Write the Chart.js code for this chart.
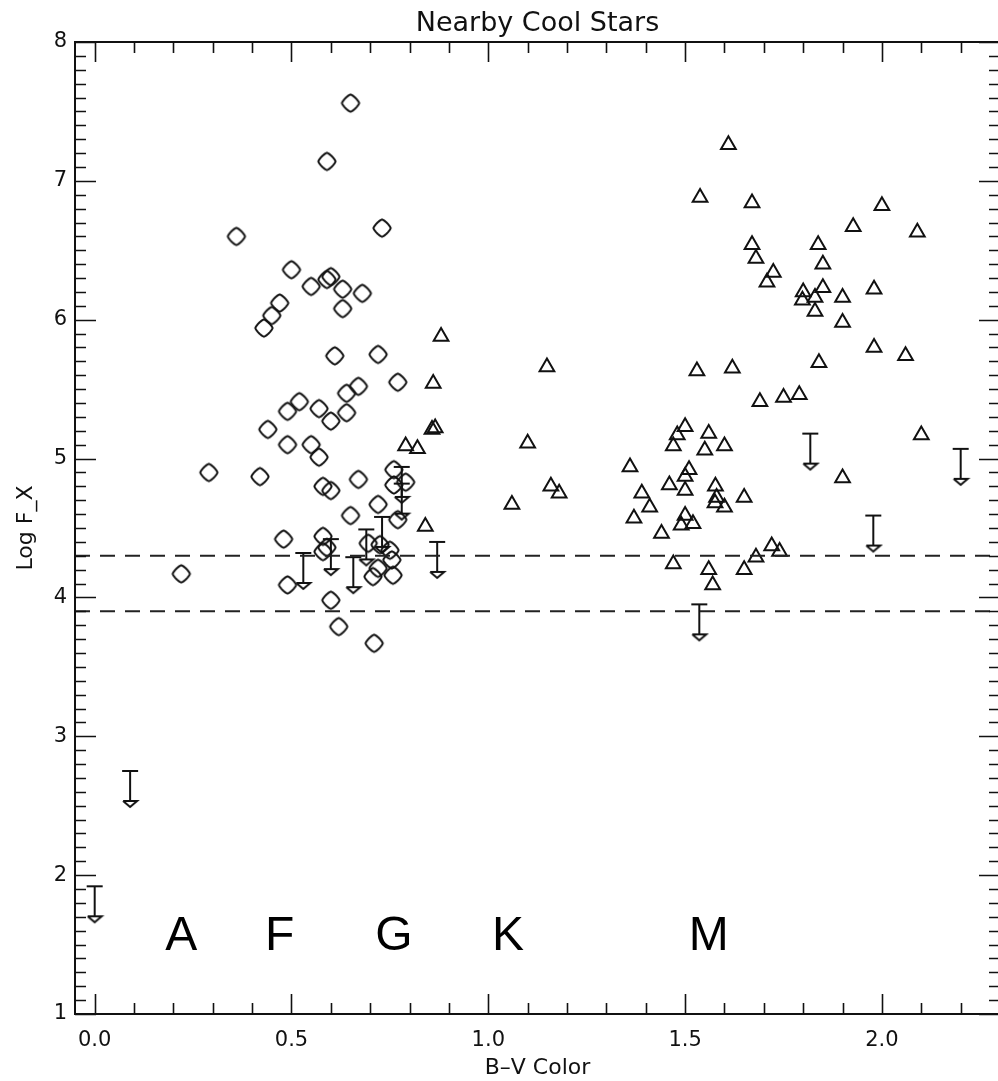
<!DOCTYPE html>
<html>
<head>
<meta charset="utf-8">
<script src="https://cdn.jsdelivr.net/npm/chart.js@4.4.0/dist/chart.umd.min.js"></script>
<style>
  html, body { margin: 0; padding: 0; background: #fff; }
  #wrap { width: 998px; height: 1081px; overflow: hidden; }
</style>
</head>
<body>
<div id="wrap"><canvas id="stars" width="1011" height="1081"></canvas></div>
<script>
;(function(){
  // values (B-V colour, log F_X)
  const diamondX = [0.22, 0.29, 0.36, 0.42, 0.43, 0.44, 0.45, 0.47, 0.48, 0.49, 0.49, 0.49, 0.50, 0.52, 0.55, 0.55,
    0.57, 0.57, 0.58, 0.58, 0.59, 0.58, 0.59, 0.59, 0.60, 0.60, 0.60, 0.60, 0.61, 0.62, 0.63, 0.63, 0.64, 0.64,
    0.65, 0.65, 0.67, 0.67, 0.68, 0.695, 0.71, 0.707, 0.72, 0.72, 0.72, 0.73, 0.725, 0.75, 0.755, 0.758, 0.76,
    0.77, 0.77, 0.79, 0.76]
  const diamondY = [4.17, 4.90, 6.60, 4.87, 5.94, 5.21, 6.03, 6.12, 4.42, 4.09, 5.10, 5.34, 6.36, 5.41, 6.24, 5.10,
    5.36, 5.01, 4.80, 4.44, 4.36, 4.33, 7.14, 6.29, 6.31, 4.77, 5.27, 3.98, 5.74, 3.79, 6.22, 6.08, 5.47, 5.33,
    7.56, 4.59, 5.52, 4.85, 6.19, 4.39, 3.67, 4.15, 5.75, 4.21, 4.67, 6.66, 4.38, 4.34, 4.27, 4.16, 4.81,
    5.55, 4.56, 4.83, 4.92]

  const triangleX = [0.84, 0.82, 0.79, 0.857, 0.865, 0.86, 0.88, 1.06, 1.10, 1.149, 1.159, 1.18, 1.36, 1.37, 1.39,
    1.41, 1.44, 1.46, 1.47, 1.47, 1.48, 1.49, 1.50, 1.50, 1.50, 1.50, 1.51, 1.52, 1.53, 1.538, 1.55, 1.56, 1.56,
    1.57, 1.577, 1.58, 1.576, 1.60, 1.60, 1.61, 1.62, 1.65, 1.65, 1.67, 1.67, 1.68, 1.68, 1.69, 1.708, 1.724,
    1.72, 1.74, 1.75, 1.79, 1.80, 1.798, 1.83, 1.83, 1.84, 1.838, 1.85, 1.85, 1.90, 1.90, 1.90, 1.927, 1.98,
    1.98, 2.00, 2.06, 2.09, 2.10]
  const triangleY = [4.51, 5.07, 5.09, 5.21, 5.22, 5.54, 5.88, 4.67, 5.11, 5.66, 4.80, 4.75, 4.94, 4.57, 4.75,
    4.65, 4.46, 4.81, 5.09, 4.24, 5.17, 4.52, 5.23, 4.87, 4.77, 4.59, 4.92, 4.53, 5.63, 6.88, 5.06, 5.18, 4.20,
    4.09, 4.80, 4.72, 4.68, 5.09, 4.65, 7.26, 5.65, 4.72, 4.20, 6.84, 6.54, 6.44, 4.29, 5.41, 6.27, 6.34,
    4.37, 4.33, 5.44, 5.46, 6.20, 6.14, 6.16, 6.06, 5.69, 6.54, 6.40, 6.23, 6.16, 5.98, 4.86, 6.67, 6.22,
    5.80, 6.82, 5.74, 6.63, 5.17]

  // upper limits: value at the bar, arrow points down
  const limitX = [0.00, 0.09, 0.53, 0.60, 0.657, 0.69, 0.73, 0.78, 0.78, 0.87, 1.536, 1.818, 1.978, 2.20]
  const limitY = [1.92, 2.75, 4.32, 4.42, 4.29, 4.49, 4.58, 4.94, 4.82, 4.40, 3.95, 5.18, 4.59, 5.07]

  const dashedLevels = [4.3, 3.9]

  const spectralLabels = ['A', 'F', 'G', 'K', 'M']
  const spectralX = [0.22, 0.47, 0.76, 1.05, 1.56]
  const spectralY = 1.46

  const xTicks = [0.0, 0.5, 1.0, 1.5, 2.0]
  const yTicks = [1, 2, 3, 4, 5, 6, 7, 8]

  const ink = '#111'

  const toPoints = (xs, ys) => xs.map((v, i) => ({ x: v, y: ys[i] }))

  // rounded diamond, the way the old plot symbols come out
  function makeDiamond() {
    const c = document.createElement('canvas')
    c.width = 22; c.height = 22
    const g = c.getContext('2d')
    g.strokeStyle = ink; g.lineWidth = 2
    g.beginPath()
    const r = 8.6, p = 1.3
    for (let k = 0; k <= 72; k++) {
      const t = k / 72 * Math.PI * 2
      const ct = Math.cos(t), st = Math.sin(t)
      const px = 11 + r * Math.sign(ct) * Math.pow(Math.abs(ct), 2 / p)
      const py = 11 + r * Math.sign(st) * Math.pow(Math.abs(st), 2 / p)
      if (k === 0) g.moveTo(px, py); else g.lineTo(px, py)
    }
    g.closePath()
    g.stroke()
    return c
  }

  // bar + stem + small arrow head; bar sits at the canvas centre
  function makeLimit() {
    const c = document.createElement('canvas')
    c.width = 20; c.height = 80
    const g = c.getContext('2d')
    g.strokeStyle = ink; g.lineWidth = 2
    g.beginPath()
    g.moveTo(2, 40); g.lineTo(18, 40)
    g.moveTo(10, 40); g.lineTo(10, 70)
    g.moveTo(3, 70); g.lineTo(17, 70); g.lineTo(10, 76); g.lineTo(3, 70)
    g.stroke()
    return c
  }

  const frame = {
    id: 'frame',
    afterDraw(chart) {
      const { ctx, chartArea: a, scales: { x, y } } = chart
      ctx.save()
      ctx.strokeStyle = ink
      ctx.lineWidth = 2
      ctx.strokeRect(a.left, a.top, a.right - a.left, a.bottom - a.top)
      ctx.lineWidth = 1.6
      ctx.beginPath()
      for (let i = 0; i <= 23; i++) {
        const px = Math.round(x.getPixelForValue(i / 10)) + 0.5
        const len = i % 5 === 0 ? 20 : 11
        ctx.moveTo(px, a.bottom); ctx.lineTo(px, a.bottom - len)
        ctx.moveTo(px, a.top); ctx.lineTo(px, a.top + len)
      }
      for (let i = 10; i <= 80; i++) {
        const py = Math.round(y.getPixelForValue(i / 10)) + 0.5
        const len = i % 10 === 0 ? 21 : 11
        ctx.moveTo(a.left, py); ctx.lineTo(a.left + len, py)
        ctx.moveTo(a.right, py); ctx.lineTo(a.right - len, py)
      }
      ctx.stroke()

      ctx.fillStyle = '#000'
      ctx.font = '48px "Liberation Sans", Arial, sans-serif'
      ctx.textAlign = 'center'
      ctx.textBaseline = 'alphabetic'
      spectralLabels.forEach((s, i) => {
        ctx.fillText(s, x.getPixelForValue(spectralX[i]), y.getPixelForValue(spectralY))
      })
      ctx.restore()
    }
  }

  Chart.defaults.font.family = '"DejaVu Sans", sans-serif'
  Chart.defaults.color = ink

  const dashSets = dashedLevels.map(v => ({
    type: 'line',
    data: [{ x: -0.05, y: v }, { x: 2.3, y: v }],
    borderColor: '#222',
    borderWidth: 2,
    borderDash: [15, 10],
    pointRadius: 0,
    fill: false
  }))

  const config = {
    type: 'scatter',
    data: {
      datasets: [
        ...dashSets,
        {
          data: toPoints(diamondX, diamondY),
          pointStyle: makeDiamond(),
          pointRadius: 9
        },
        {
          data: toPoints(triangleX, triangleY),
          pointStyle: 'triangle',
          pointRadius: 8.5,
          borderColor: ink,
          backgroundColor: 'rgba(0,0,0,0)',
          borderWidth: 2
        },
        {
          data: toPoints(limitX, limitY),
          pointStyle: makeLimit(),
          pointRadius: 10
        }
      ]
    },
    options: {
      responsive: false,
      animation: false,
      devicePixelRatio: 1,
      layout: { padding: { left: 0, right: 4, top: 0, bottom: 0 } },
      plugins: {
        legend: { display: false },
        tooltip: { enabled: false },
        title: {
          display: true,
          text: 'Nearby Cool Stars',
          fullSize: false,
          color: ink,
          font: { size: 27, weight: 'normal' },
          padding: { top: 8, bottom: 1.6 }
        }
      },
      scales: {
        x: {
          type: 'linear',
          min: -0.05,
          max: 2.3,
          grid: { display: false, drawTicks: false },
          border: { display: false },
          afterBuildTicks: s => { s.ticks = xTicks.map(v => ({ value: v })) },
          afterFit: s => { s.height = 67 },
          ticks: {
            padding: 14,
            font: { size: 21 },
            color: ink,
            maxRotation: 0,
            callback: v => Number(v).toFixed(1)
          },
          title: {
            display: true,
            text: 'B\u2013V Color',
            font: { size: 22 },
            color: ink,
            padding: 0
          }
        },
        y: {
          type: 'linear',
          min: 1,
          max: 8,
          grid: { display: false, drawTicks: false },
          border: { display: false },
          afterBuildTicks: s => { s.ticks = yTicks.map(v => ({ value: v })) },
          afterFit: s => { s.width = 75 },
          ticks: {
            padding: 8,
            font: { size: 21 },
            color: ink,
            callback: v => String(v)
          },
          title: {
            display: true,
            text: 'Log F_X',
            font: { size: 22 },
            color: ink,
            padding: 13
          }
        }
      }
    },
    plugins: [frame]
  }

  const ctx = document.getElementById('stars')
  let chart = new Chart(ctx, config)
})()
</script>
</body>
</html>
